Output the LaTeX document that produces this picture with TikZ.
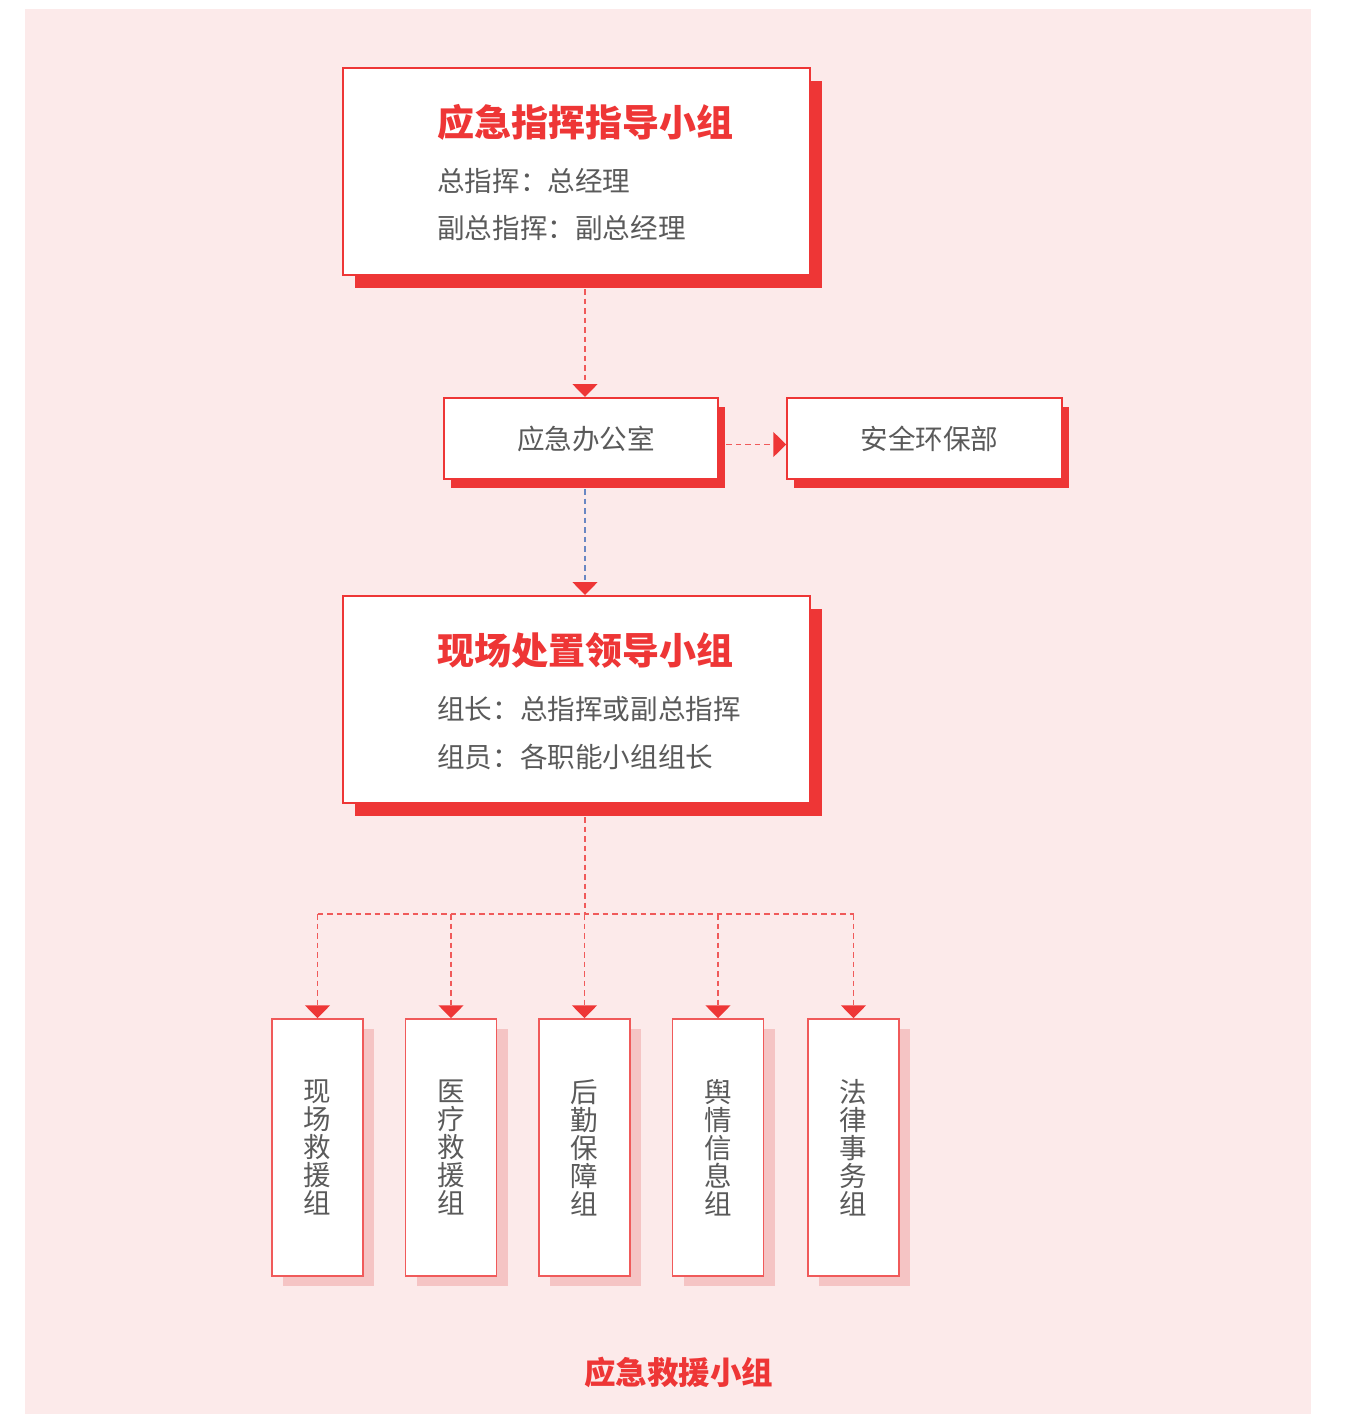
\documentclass[tikz,border=0pt]{standalone}
\usepackage{fontspec}
\newfontfamily\cjk{Noto Sans CJK SC}
\usetikzlibrary{arrows.meta,shadows}
\definecolor{jred}{RGB}{238,54,54}
\definecolor{jline}{RGB}{240,90,90}
\definecolor{jpink}{RGB}{252,234,234}
\definecolor{jshade}{RGB}{245,196,196}
\definecolor{jgrey}{RGB}{90,90,90}
\definecolor{jblue}{RGB}{105,135,195}

\tikzset{
  bigbox/.style={rectangle,draw=jred,line width=2pt,fill=white,minimum width=467pt,minimum height=207pt,
    drop shadow={shadow xshift=12pt,shadow yshift=-13pt,fill=jred,opacity=1}},
  midbox/.style={rectangle,draw=jred,line width=2pt,fill=white,minimum width=274.5pt,minimum height=81pt,
    drop shadow={shadow xshift=7pt,shadow yshift=-9pt,fill=jred,opacity=1}},
  groupbox/.style={rectangle,draw=jline,line width=1.5pt,fill=white,minimum width=91pt,minimum height=257pt,
    inner sep=0pt,align=center,text=jgrey,font=\cjk\fontsize{27.5}{28}\selectfont,
    drop shadow={shadow xshift=11pt,shadow yshift=-10pt,fill=jshade,opacity=1}},
  headtext/.style={anchor=west,inner sep=0pt,text=jred,font=\cjk\bfseries\fontsize{37}{40}\selectfont},
  bodytext/.style={anchor=west,inner sep=0pt,text=jgrey,font=\cjk\fontsize{27.6}{30}\selectfont},
  dline/.style={draw=jline,line width=1.6pt,dash pattern=on 5.5pt off 4pt},
  arrowhead/.style={-{Triangle[width=25pt,length=13pt,color=jred]}}
}

\begin{document}
\begin{tikzpicture}[x=1pt,y=-1pt]
  \useasboundingbox (0,0) rectangle (1348,1414);
  \fill[white] (0,0) rectangle (1348,1414);
  \fill[jpink] (25,9) rectangle (1311,1414);

  % command group
  \node[bigbox] (lead) at (576.5,171.5) {};
  \node[headtext] (leadT) at (437,122.5) {应急指挥指导小组};
  \node[bodytext] (leadA) at (437,181.5) {总指挥：总经理};
  \node[bodytext] (leadB) at (437,228.5) {副总指挥：副总经理};

  % office and safety department
  \node[midbox] (office) at (581,438.5) {};
  \node[bodytext,anchor=center] (officeT) at ([xshift=5pt]office.center) {应急办公室};
  \node[midbox] (safety) at (924.5,438.5) {};
  \node[bodytext,anchor=center] (safetyT) at ([xshift=5pt]safety.center) {安全环保部};

  % field group
  \node[bigbox] (field) at (576.5,699.5) {};
  \node[headtext] (fieldT) at (437,650.5) {现场处置领导小组};
  \node[bodytext] (fieldA) at (437,709.5) {组长：总指挥或副总指挥};
  \node[bodytext] (fieldB) at (437,756.5) {组员：各职能小组组长};

  % rescue groups
  \node[groupbox] (g1) at (317.5,1147.5) {现\\场\\救\\援\\组};
  \node[groupbox] (g2) at (451,1147.5) {医\\疗\\救\\援\\组};
  \node[groupbox] (g3) at (584.5,1147.5) {后\\勤\\保\\障\\组};
  \node[groupbox] (g4) at (718,1147.5) {舆\\情\\信\\息\\组};
  \node[groupbox] (g5) at (853.5,1147.5) {法\\律\\事\\务\\组};
  \node[headtext,anchor=center,font=\cjk\bfseries\fontsize{31.5}{34}\selectfont] (rescue) at (678.5,1372.5) {应急救援小组};

  % connectors
  \coordinate (axis) at (585,0);
  \coordinate (bus) at (585,914);
  \draw[dline,arrowhead] ([yshift=-13pt]lead.south -| axis) -- (office.north -| axis);
  \draw[dline,arrowhead] ([xshift=7pt,yshift=-6pt]office.east) -- ([yshift=-6pt]safety.west);
  \draw[dline,draw=jblue,arrowhead] ([yshift=-9pt]office.south -| axis) -- (field.north -| axis);
  \draw[dline] ([yshift=-13pt]field.south -| axis) -- (bus);
  \draw[dline] (g1.north |- bus) -- (g5.north |- bus);
  \foreach \i in {1,...,5}
    \draw[dline,arrowhead] (g\i.north |- bus) -- (g\i.north);
\end{tikzpicture}
\end{document}
